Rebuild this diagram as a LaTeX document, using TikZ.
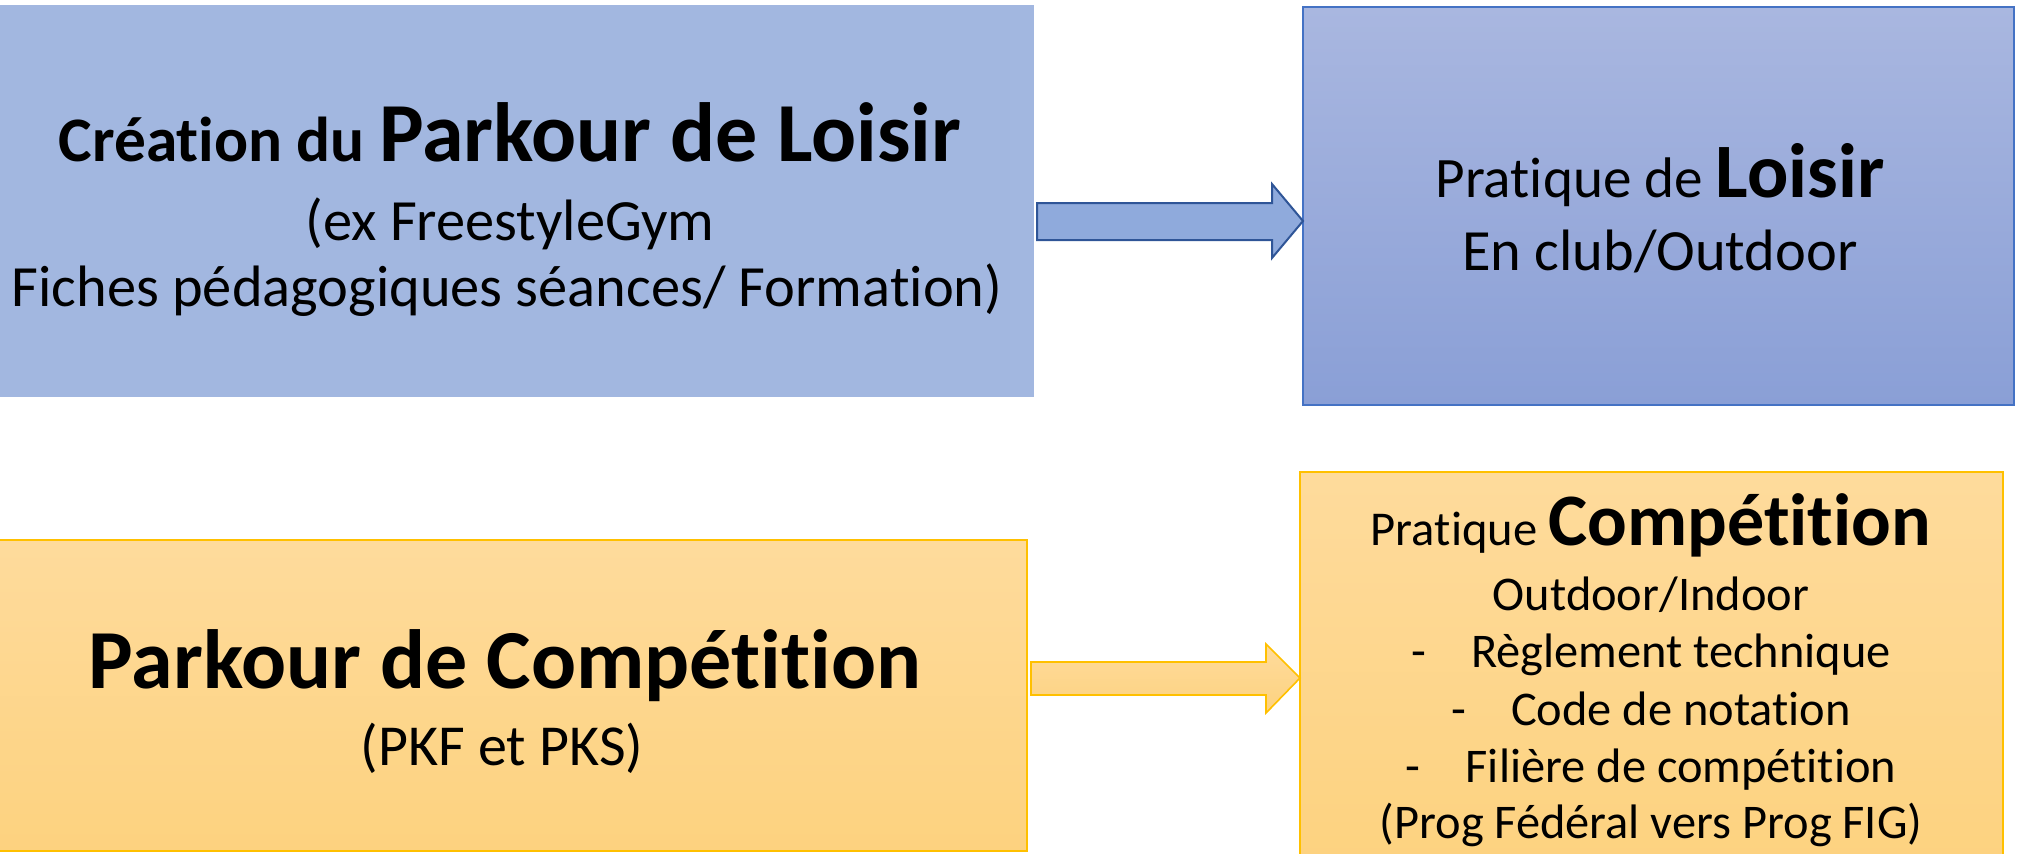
\documentclass[tikz,border=0pt]{standalone}
\usepackage{fontspec}
\setmainfont{Carlito}[RawFeature={-liga;-clig;-dlig;-calt}]
\definecolor{blueflat}{HTML}{A2B7E0}
\definecolor{bluetop}{HTML}{A9B7E0}
\definecolor{bluebot}{HTML}{8A9FD6}
\definecolor{blueline}{HTML}{4472C4}
\definecolor{arrowfill}{HTML}{8FAADC}
\definecolor{arrowline}{HTML}{2F5597}
\definecolor{yeltop}{HTML}{FEDB9C}
\definecolor{yelbot}{HTML}{FDD27F}
\definecolor{yelline}{HTML}{FFC000}
\newcommand\setfs[1]{\fontsize{#1}{#1}\selectfont}
\tikzset{
  box/.style={rectangle, inner sep=0pt, outer sep=0pt},
  blueplain/.style={box, fill=blueflat},
  bluegrad/.style={box, top color=bluetop, bottom color=bluebot, draw=blueline, line width=0.9pt},
  yelgrad/.style={box, top color=yeltop, bottom color=yelbot, draw=yelline, line width=0.8pt},
  bluearrow/.style={fill=arrowfill, draw=arrowline, line width=1pt, line join=miter},
  yelarrow/.style={top color=yeltop, bottom color=yelbot, draw=yelline, line width=0.8pt, line join=miter},
  txt/.style={anchor=base, inner sep=0pt, outer sep=0pt, text=black},
}
\begin{document}
\begin{tikzpicture}[x=0.5pt, y=-0.5pt]
\useasboundingbox (0,0) rectangle (2026,853);
\clip (0,0) rectangle (2026,853);
% boxes
\node[blueplain, minimum width=517pt, minimum height=196pt] (b1) at (517,201) {};
\node[bluegrad, minimum width=355.5pt, minimum height=199pt] (b2) at (1658.5,206) {};
\node[yelgrad, minimum width=514.5pt, minimum height=155.5pt] (b3) at (512.5,695.5) {};
\node[yelgrad, minimum width=351.5pt, minimum height=199pt] (b4) at (1651.5,671) {};
% block arrows
\coordinate (a1s) at (b1.east |- 0,221);
\coordinate (a1t) at (b2.west |- 0,221);
\draw[bluearrow] ([xshift=1.5pt,yshift=9pt]a1s) -- (1272,203) -- (1272,184) -- (a1t)
  -- (1272,258) -- (1272,240) -- ([xshift=1.5pt,yshift=-9.5pt]a1s) -- cycle;
\coordinate (a2s) at (b3.east |- 0,678);
\coordinate (a2t) at (b4.west |- 0,678);
\draw[yelarrow] ([xshift=2pt,yshift=8pt]a2s) -- (1266,662) -- (1266,644) -- (a2t)
  -- (1266,713) -- (1266,695) -- ([xshift=2pt,yshift=-8.5pt]a2s) -- cycle;
% texts box 1
\node[txt] (t1a) at (510,161) {\setfs{31.7}\bfseries Création du \setfs{42}Parkour de Loisir};
\node[txt] (t1b) at (510,240) {\setfs{29.2}(ex FreestyleGym};
\node[txt] (t1c) at (507,306) {\setfs{29.2}Fiches pédagogiques séances/ Formation)};
% texts box 2
\node[txt] (t2a) at (1660,197) {\setfs{28.6}Pratique de \setfs{38.5}\bfseries Loisir};
\node[txt] (t2b) at (1660,270) {\setfs{29.2}En club/Outdoor};
% texts box 3
\node[txt] (t3a) at (505,688) {\setfs{42}\bfseries Parkour de Compétition};
\node[txt] (t3b) at (502,765) {\setfs{29}(PKF et PKS)};
% texts box 4
\node[txt] (t4a) at (1651,545) {\setfs{24.3}Pratique \setfs{37}\bfseries Compétition};
\node[txt] (t4b) at (1651,610) {\setfs{24.2}Outdoor/Indoor};
\node[txt] (t4c) at (1651,667) {\setfs{24.2}\makebox[30pt][l]{-}Règlement technique};
\node[txt] (t4d) at (1651,725) {\setfs{24.2}\makebox[30pt][l]{-}Code de notation};
\node[txt] (t4e) at (1651,782) {\setfs{24.2}\makebox[30pt][l]{-}Filière de compétition};
\node[txt] (t4f) at (1651,838) {\setfs{24.2}(Prog Fédéral vers Prog FIG)};
\end{tikzpicture}
\end{document}
